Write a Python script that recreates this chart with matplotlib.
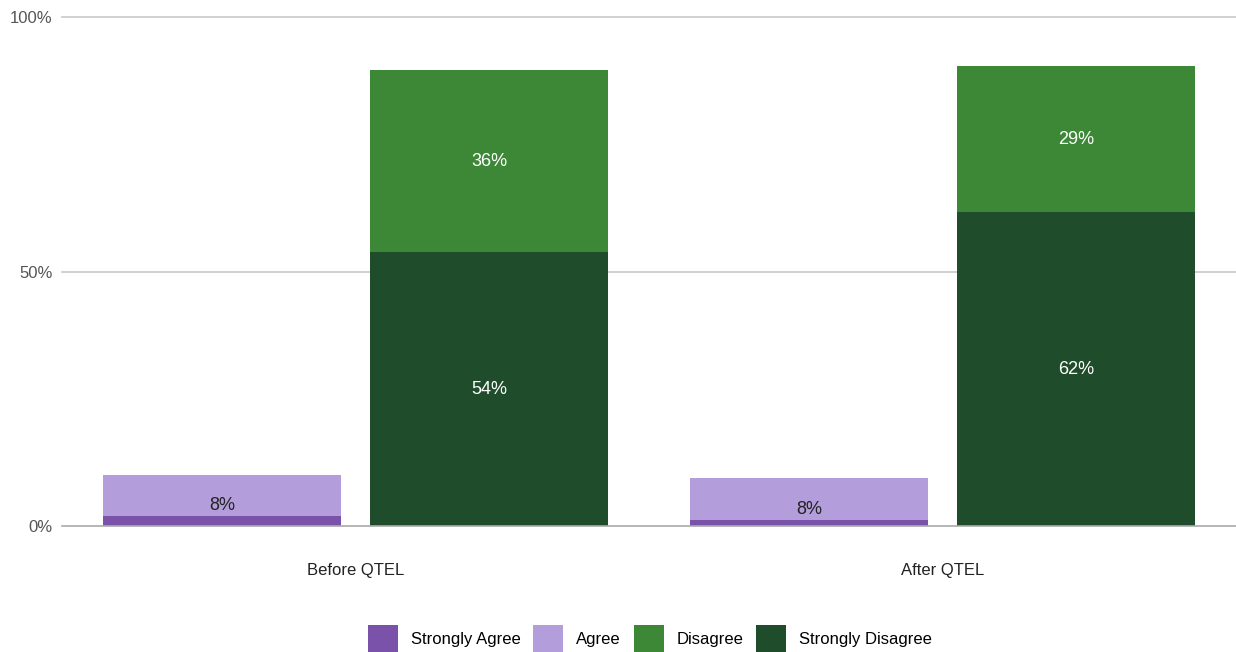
import matplotlib
matplotlib.use("Agg")
import matplotlib.pyplot as plt
from matplotlib.patches import Patch

plt.rcParams['font.family'] = ['Liberation Sans', 'DejaVu Sans']

# Survey responses (% of respondents)
categories = ["Before QTEL", "After QTEL"]
strongly_agree = [2.0, 1.2]
agree = [8.1, 8.3]
disagree = [35.8, 28.8]
strongly_disagree = [53.8, 61.6]
y_ticks = [0, 50, 100]
y_tick_labels = ["0%", "50%", "100%"]
series_names = ["Strongly Agree", "Agree", "Disagree", "Strongly Disagree"]

c_sa = "#7a52a9"
c_a = "#b39ddb"
c_d = "#3d8837"
c_sd = "#1f4d2b"

fig = plt.figure(figsize=(12.36, 6.52), dpi=100)
ax = fig.add_axes([62 / 1236, 1 - 526 / 652, 1 - 62 / 1236, (526 - 17) / 652])

x = list(range(len(categories)))
w = 0.407
off = 0.2274
xa = [i - off for i in x]
xd = [i + off for i in x]

ax.bar(xa, strongly_agree, width=w, color=c_sa, zorder=3)
ax.bar(xa, agree, width=w, bottom=strongly_agree, color=c_a, zorder=3)
ax.bar(xd, strongly_disagree, width=w, color=c_sd, zorder=3)
ax.bar(xd, disagree, width=w, bottom=strongly_disagree, color=c_d, zorder=3)

for i in x:
    ax.text(xa[i], strongly_agree[i] + agree[i] * 0.25, f"{round(agree[i])}%",
            ha="center", va="center", fontsize=13, color="#222222", zorder=4)
    ax.text(xd[i], strongly_disagree[i] / 2, f"{round(strongly_disagree[i])}%",
            ha="center", va="center", fontsize=13, color="white", zorder=4)
    ax.text(xd[i], strongly_disagree[i] + disagree[i] / 2, f"{round(disagree[i])}%",
            ha="center", va="center", fontsize=13, color="white", zorder=4)

ax.set_xlim(-0.5, 1.5)
ax.set_ylim(0, 100)
ax.set_yticks(y_ticks)
ax.set_yticklabels(y_tick_labels)
ax.set_xticks(x)
ax.set_xticklabels(categories)
ax.tick_params(axis="y", length=0, pad=7, labelsize=12, labelcolor="#555555")
ax.tick_params(axis="x", length=0, pad=27, labelsize=12, labelcolor="#222222")

for s in ax.spines.values():
    s.set_visible(False)
for yv in y_ticks[1:]:
    ax.axhline(yv, color="#c8c8c8", linewidth=1.2, zorder=1, clip_on=False)
ax.axhline(0, color="#aaaaaa", linewidth=1.2, zorder=4, clip_on=False)

handles = [Patch(facecolor=c, edgecolor="none") for c in (c_sa, c_a, c_d, c_sd)]
fig.legend(handles, series_names, loc="center", bbox_to_anchor=(650 / 1236, 1 - 638.5 / 652),
           ncol=4, frameon=False, fontsize=12, handlelength=1.8, handleheight=2.2,
           handletextpad=0.78, columnspacing=0.75, borderpad=0, borderaxespad=0)

fig.savefig("out.png", dpi=100)
